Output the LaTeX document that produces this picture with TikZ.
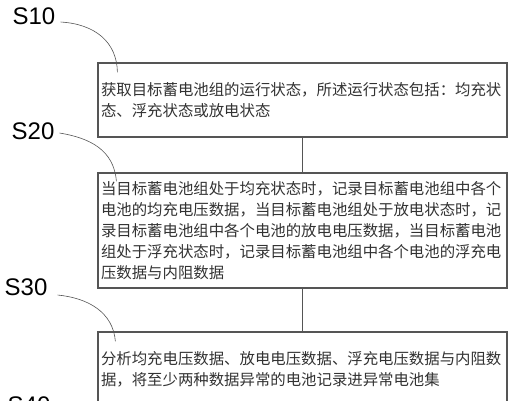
\documentclass[tikz,border=0pt]{standalone}
\usepackage{fontspec}
\setmainfont{Liberation Sans}
\newfontfamily\cjkfont{Noto Sans CJK SC}
\definecolor{stepgray}{RGB}{85,85,85}
\definecolor{textgray}{RGB}{50,50,50}
\usetikzlibrary{calc}

\begin{document}
\begin{tikzpicture}[x=1pt,y=-1pt,
  stepbox/.style={draw=stepgray,line width=1.2pt,minimum width=409pt,minimum height=74pt,text width=403pt,inner xsep=3pt,inner ysep=0pt,align=left,text=textgray,font=\cjkfont\fontsize{15.4}{21}\selectfont},
  steplabel/.style={inner sep=0pt,text=black,font=\fontsize{24}{24}\selectfont},
  leader/.style={draw=stepgray,line width=0.6pt}]
  \useasboundingbox (0,0) rectangle (512,400);
  \node[stepbox] (b1) at (302.5,100) {获取目标蓄电池组的运行状态，所述运行状态包括：均充状\\态、浮充状态或放电状态};
  \node[stepbox,minimum height=115pt] (b2) at (302.5,230.5) {当目标蓄电池组处于均充状态时，记录目标蓄电池组中各个\\电池的均充电压数据，当目标蓄电池组处于放电状态时，记\\录目标蓄电池组中各个电池的放电电压数据，当目标蓄电池\\组处于浮充状态时，记录目标蓄电池组中各个电池的浮充电\\压数据与内阻数据};
  \node[stepbox] (b3) at (302.5,369) {分析均充电压数据、放电电压数据、浮充电压数据与内阻数\\据，将至少两种数据异常的电池记录进异常电池集};
  \draw[stepgray,line width=1.2pt] (b1) -- (b2);
  \draw[stepgray,line width=1.2pt] (b2) -- (b3);
  \node[steplabel] (s10) at (34,16) {S10};
  \node[steplabel] (s20) at (33,131) {S20};
  \node[steplabel] (s30) at (26,287) {S30};
  \node[steplabel] (s40) at (29,405) {S40};
  \coordinate (e10) at ($(b1.north west)+(20,10)$);
  \coordinate (e20) at ($(b2.north west)+(19,9)$);
  \coordinate (e30) at ($(b3.north west)+(18,10)$);
  \draw[leader] ([shift={(5,6)}]s10.east) .. controls (95,24) and (117,42) .. (e10);
  \draw[leader] ([shift={(5,2)}]s20.east) .. controls (90,138) and (114,150) .. (e20);
  \draw[leader] ([shift={(10,8)}]s30.east) .. controls (88,298) and (113,312) .. (e30);
\end{tikzpicture}
\end{document}
